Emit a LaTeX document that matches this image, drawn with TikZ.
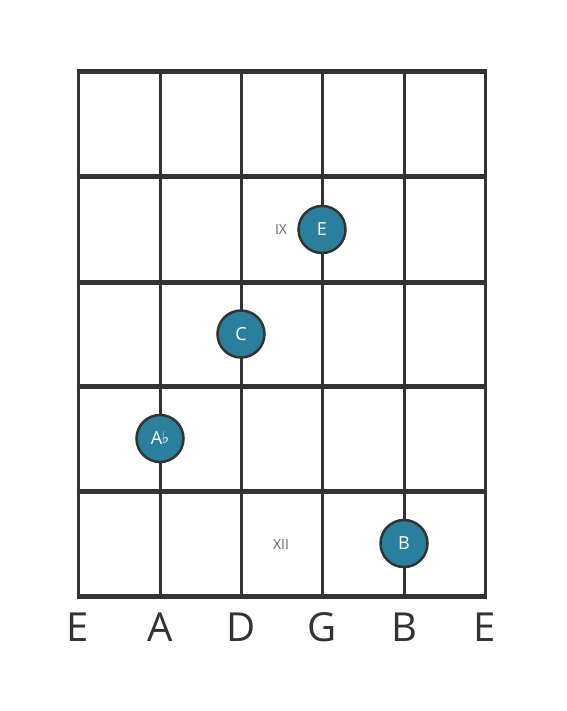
\documentclass[tikz,border=0pt]{standalone}
\usepackage{fontspec}
\setmainfont{Open Sans}
\newfontfamily\symfont{DejaVu Sans}
\definecolor{gridc}{HTML}{333333}
\definecolor{dotc}{HTML}{2A809C}
\definecolor{fretlab}{HTML}{666666}
\begin{document}
\begin{tikzpicture}[x=1pt,y=-1pt,
  fretline/.style={draw=gridc,line width=5pt},
  stringline/.style={draw=gridc,line width=3pt},
  notedot/.style={circle,fill=dotc,draw=gridc,line width=2.5pt,minimum size=47pt,inner sep=0pt,text=white,font=\fontsize{18}{20}\selectfont},
  strlab/.style={text=gridc,font=\fontsize{40}{44}\selectfont,inner sep=0pt},
  fretnum/.style={text=fretlab,font=\fontsize{14}{16}\selectfont,inner sep=0pt}]
\useasboundingbox (0,0) rectangle (566,711);
\fill[white] (0,0) rectangle (566,711);
% strings
\foreach \x/\n in {78/s1,160/s2,241/s3,322/s4,404/s5,485/s6}{
  \coordinate (\n t) at (\x,72);
  \coordinate (\n b) at (\x,596);
  \draw[stringline] (\n t) -- (\n b);
}
% frets
\foreach \y/\n in {72/f0,177/f1,282/f2,386/f3,491/f4,596/f5}{
  \coordinate (\n l) at (76.5,\y);
  \coordinate (\n r) at (486.5,\y);
  \draw[fretline] (\n l) -- (\n r);
}
% fret numbers
\node[fretnum] (ix) at (281,230) {IX};
\node[fretnum] (xii) at (281,544) {XII};
% notes
\node[notedot] (nE) at (322,229.5) {E};
\node[notedot] (nC) at (241,334) {C};
\node[notedot] (nAb) at (160,438.5) {A\kern-0.5pt{\symfont\fontsize{16}{18}\selectfont\raisebox{1pt}{♭}}};
\node[notedot] (nB) at (404,543.5) {B};
% string labels
\foreach \x/\t/\n in {78/E/l1,160/A/l2,241/D/l3,322/G/l4,404/B/l5,485/E/l6}{
  \node[strlab,anchor=base] (\n) at (\x,641) {\t};
}
\end{tikzpicture}
\end{document}
